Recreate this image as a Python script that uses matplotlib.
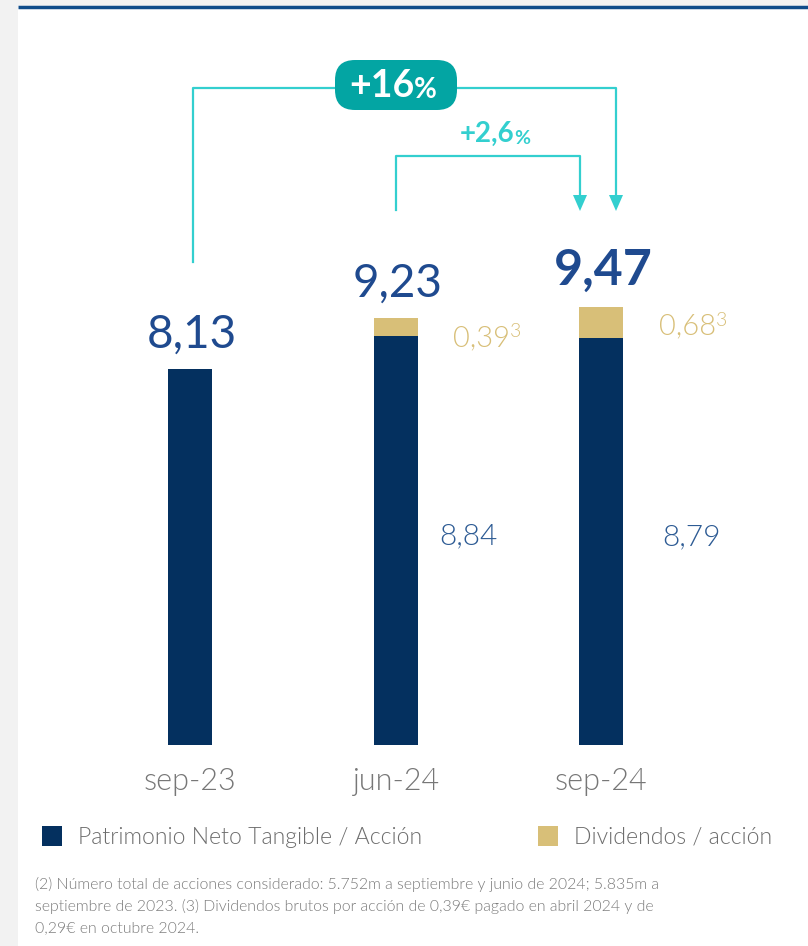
import matplotlib.pyplot as plt
from matplotlib.patches import FancyBboxPatch, Rectangle, Polygon

# datos
periodos = ['sep-23', 'jun-24', 'sep-24']
pnt_accion = [8.13, 8.84, 8.79]
dividendos = [0.0, 0.39, 0.68]
totales = ['8,13', '9,23', '9,47']
etiq_pnt = ['', '8,84', '8,79']
etiq_div = ['', '0,39', '0,68']
nota_div = '3'
crec_total = '+16'
crec_trim = '+2,6'
leyenda = ['Patrimonio Neto Tangible / Acción', 'Dividendos / acción']
nota = ['(2) Número total de acciones considerado: 5.752m a septiembre y junio de 2024; 5.835m a',
        'septiembre de 2023. (3) Dividendos brutos por acción de 0,39€ pagado en abril 2024 y de',
        '0,29€ en octubre 2024.']

NAVY = '#04305f'
GOLD = '#d8bf78'
AZUL_TXT = '#1f4a8f'
TEAL = '#03a5a3'
CIAN = '#33cfcf'
GRIS = '#7a7a7a'
LIGHT = 300

plt.rcParams['font.family'] = ['Lato', 'DejaVu Sans']

fig = plt.figure(figsize=(8.08, 9.46), dpi=100)
fig.patch.set_facecolor('white')

# capa de fondo en pixeles
bg = fig.add_axes([0, 0, 1, 1])
bg.set_xlim(0, 808)
bg.set_ylim(946, 0)
bg.axis('off')
bg.add_patch(Rectangle((0, 0), 18, 946, color='#f2f2f2', lw=0))
bg.add_patch(Rectangle((0, 0), 808, 6, color='#f2f2f2', lw=0))
bg.plot([18, 808], [7, 7], color='#0f4c8a', lw=2.5, solid_capstyle='butt')

# barras
ax = fig.add_axes([0, (946 - 745) / 946, 1, 745 / 946])
ax.set_facecolor('none')
ax.set_ylim(0, 745 / 46.25)
ax.set_xlim(-0.925, 3.007)
ax.axis('off')

x = list(range(len(periodos)))
w = 0.214
ax.bar(x, pnt_accion, width=w, color=NAVY, zorder=2)
ax.bar(x, dividendos, width=w, bottom=pnt_accion, color=GOLD, zorder=2)

desp_pnt = {1: 0.214, 2: 0.30}
for i in x:
    tope = pnt_accion[i] + dividendos[i]
    bold = i == 2
    ax.text(i + 0.01, tope + 0.47, totales[i], ha='center', va='baseline',
            fontsize=36 if bold else 33, fontweight='bold' if bold else 'normal',
            color=AZUL_TXT)
    if etiq_pnt[i]:
        ax.text(i + desp_pnt[i], pnt_accion[i] / 2 + 0.1, etiq_pnt[i], ha='left', va='center',
                fontsize=21.5, fontweight=LIGHT, color='#2d5b94')
    if etiq_div[i]:
        t = ax.text(i + 0.28, tope - 0.6, etiq_div[i], ha='left', va='baseline',
                    fontsize=21, fontweight=LIGHT, color=GOLD)
        ax.annotate(nota_div, xy=(1, 1), xycoords=t, xytext=(0, 1), textcoords='offset points',
                    ha='left', va='top', fontsize=14, fontweight=LIGHT, color=GOLD)
    ax.text(i, -0.97, periodos[i], ha='center', va='baseline',
            fontsize=22, fontweight=LIGHT, color='#777777')

# flechas de crecimiento
def cabeza(xp, yp):
    bg.add_patch(Polygon([[xp - 7, yp - 16], [xp + 7, yp - 16], [xp, yp]],
                         closed=True, color=CIAN, lw=0, zorder=5))

bg.plot([193, 193, 616, 616], [262, 88, 88, 196], color=CIAN, lw=1.6, zorder=4)
cabeza(616, 211)
bg.plot([396, 396, 580, 580], [210, 156, 156, 196], color=CIAN, lw=1.6, zorder=4)
cabeza(580, 211)

bg.add_patch(FancyBboxPatch((335, 60), 122, 50, boxstyle='round,pad=0,rounding_size=20',
                            fc=TEAL, ec='none', lw=0, zorder=6))
t1 = bg.text(349, 97, crec_total, ha='left', va='baseline', fontsize=27,
             fontweight='bold', color='white', zorder=7)
bg.annotate('%', xy=(1, 0), xycoords=t1, va='bottom', ha='left', fontsize=20,
            fontweight='bold', color='white', zorder=7)
t2 = bg.text(460, 142, crec_trim, ha='left', va='baseline', fontsize=20,
             fontweight='bold', color=CIAN)
bg.annotate('%', xy=(1, 0), xycoords=t2, va='bottom', ha='left', fontsize=14,
            fontweight='bold', color=CIAN)

# leyenda
bg.add_patch(Rectangle((42, 826), 20, 20, color=NAVY, lw=0))
bg.text(78, 837, leyenda[0], ha='left', va='center', fontsize=16.6,
        fontweight=LIGHT, color='#6d6d6d')
bg.add_patch(Rectangle((538, 826), 20, 20, color=GOLD, lw=0))
bg.text(574, 837, leyenda[1], ha='left', va='center', fontsize=16.6,
        fontweight=LIGHT, color='#6d6d6d')

# nota al pie
for k, linea in enumerate(nota):
    bg.text(35, 884 + 22 * k, linea, ha='left', va='center', fontsize=11.4,
            fontweight=LIGHT, color=GRIS)

fig.savefig('out.png', dpi=100)
